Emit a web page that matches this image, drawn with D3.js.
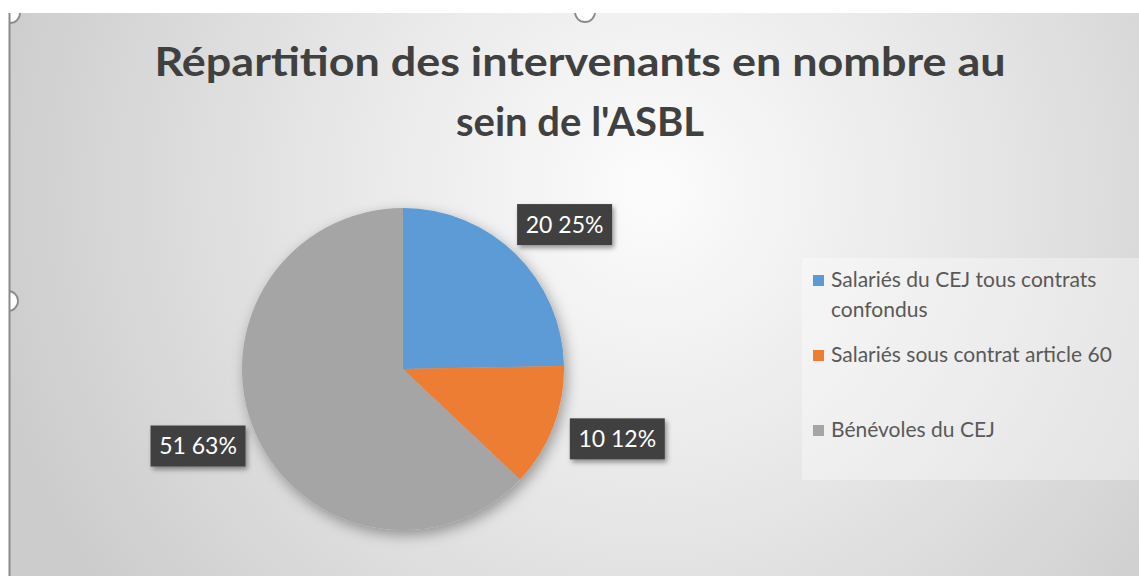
<!DOCTYPE html>
<html>
<head>
<meta charset="utf-8">
<script src="https://cdn.jsdelivr.net/npm/d3@7"></script>
<style>
  html, body { margin: 0; padding: 0; background: #fff; }
  #chart { width: 1139px; height: 576px; }
</style>
</head>
<body>
<div id="chart"></div>
<script>
// données du graphique
const categories = [
  'Salariés du CEJ tous contrats confondus',
  'Salariés sous contrat article 60',
  'Bénévoles du CEJ'
];
const legendLines = [
  ['Salariés du CEJ tous contrats', 'confondus'],
  ['Salariés sous contrat article 60'],
  ['Bénévoles du CEJ']
];
const values = [20, 10, 51];
const colors = ['#5b9bd5', '#ed7d31', '#a5a5a5'];
const titleLines = ['Répartition des intervenants en nombre au', "sein de l'ASBL"];

const width = 1139, height = 576;
const font = 'Lato, "Open Sans", sans-serif';

const svg = d3.select('#chart')
  .append('svg')
  .attr('width', width)
  .attr('height', height)
  .style('display', 'block');

const defs = svg.append('defs');

const bg = defs.append('radialGradient')
  .attr('id', 'bg')
  .attr('gradientUnits', 'userSpaceOnUse')
  .attr('cx', 650).attr('cy', 190).attr('r', 680);
bg.append('stop').attr('offset', '0%').attr('stop-color', '#fcfcfc');
bg.append('stop').attr('offset', '45%').attr('stop-color', '#e8e8e8');
bg.append('stop').attr('offset', '100%').attr('stop-color', '#cccccc');

const pieShadow = defs.append('filter').attr('id', 'pieShadow')
  .attr('x', '-20%').attr('y', '-20%').attr('width', '140%').attr('height', '140%');
pieShadow.append('feDropShadow')
  .attr('dx', 3).attr('dy', 5).attr('stdDeviation', 7)
  .attr('flood-color', '#000').attr('flood-opacity', 0.35);

const boxShadow = defs.append('filter').attr('id', 'boxShadow')
  .attr('x', '-20%').attr('y', '-30%').attr('width', '140%').attr('height', '160%');
boxShadow.append('feDropShadow')
  .attr('dx', 2).attr('dy', 3).attr('stdDeviation', 2.5)
  .attr('flood-color', '#000').attr('flood-opacity', 0.4);

// zone du graphique (cadre sélectionné)
svg.append('rect')
  .attr('x', 10).attr('y', 13)
  .attr('width', width - 10).attr('height', height - 13)
  .attr('fill', 'url(#bg)');

// poignées de sélection (à moitié cachées par le bord)
const handles = [[10, 13], [585, 12], [8, 301]];
svg.selectAll('circle.handle')
  .data(handles)
  .join('circle')
  .attr('class', 'handle')
  .attr('cx', d => d[0]).attr('cy', d => d[1])
  .attr('r', 10)
  .attr('fill', '#fff')
  .attr('stroke', '#8a8a8a')
  .attr('stroke-width', 1.8);
svg.append('rect')
  .attr('x', 0).attr('y', 0).attr('width', width).attr('height', 13)
  .attr('fill', '#fff');
svg.append('rect')
  .attr('x', 0).attr('y', 0).attr('width', 9).attr('height', height)
  .attr('fill', '#fff');
svg.append('line')
  .attr('x1', 9.5).attr('x2', 9.5).attr('y1', 13).attr('y2', height)
  .attr('stroke', '#8a8a8a').attr('stroke-width', 2);

// titre
const title = svg.append('text')
  .attr('text-anchor', 'middle')
  .attr('font-family', font)
  .attr('font-weight', 700)
  .attr('font-size', 40)
  .attr('fill', '#404040');
title.selectAll('tspan')
  .data(titleLines)
  .join('tspan')
  .attr('x', 580)
  .attr('y', (d, i) => 76 + i * 60)
  .text(d => d);
title.select('tspan').attr('textLength', 851).attr('lengthAdjust', 'spacingAndGlyphs');

// camembert
const cx = 403, cy = 369, radius = 161;
const total = d3.sum(values);
const pie = d3.pie().sort(null).value(d => d)(values);
const arc = d3.arc().innerRadius(0).outerRadius(radius);
const labelArc = d3.arc().innerRadius(radius + 18).outerRadius(radius + 18);

const g = svg.append('g').attr('transform', `translate(${cx},${cy})`);

g.append('g')
  .attr('filter', 'url(#pieShadow)')
  .selectAll('path')
  .data(pie)
  .join('path')
  .attr('d', arc)
  .attr('fill', (d, i) => colors[i]);

// étiquettes de données
const boxW = 95, boxH = 41;
const labels = g.selectAll('g.lbl')
  .data(pie)
  .join('g')
  .attr('class', 'lbl')
  .attr('transform', d => {
    const [x, y] = labelArc.centroid(d);
    const a = (d.startAngle + d.endAngle) / 2;
    return `translate(${x + Math.sin(a) * boxW / 2 + 3},${y - Math.cos(a) * boxH / 2 - 2})`;
  });

labels.append('rect')
  .attr('x', -boxW / 2).attr('y', -boxH / 2)
  .attr('width', boxW).attr('height', boxH)
  .attr('fill', '#404040')
  .attr('filter', 'url(#boxShadow)');

labels.append('text')
  .attr('text-anchor', 'middle')
  .attr('dy', '0.36em')
  .attr('font-family', font)
  .attr('font-size', 23)
  .attr('fill', '#fff')
  .text(d => `${d.data} ${d3.format('.0%')(d.data / total)}`);

// légende
const legend = svg.append('g');
legend.append('rect')
  .attr('x', 802).attr('y', 258)
  .attr('width', width - 802).attr('height', 222)
  .attr('fill', '#fff').attr('fill-opacity', 0.35);

const legendY = d3.scaleLinear().domain([0, 1]).range([287, 362]);

const item = legend.selectAll('g.item')
  .data(categories)
  .join('g')
  .attr('class', 'item')
  .attr('transform', (d, i) => `translate(813,${legendY(i)})`);

item.append('rect')
  .attr('x', 0).attr('y', -12)
  .attr('width', 11).attr('height', 11)
  .attr('fill', (d, i) => colors[i]);

item.append('text')
  .attr('font-family', font)
  .attr('font-size', 21)
  .attr('fill', '#595959')
  .selectAll('tspan')
  .data((d, i) => legendLines[i])
  .join('tspan')
  .attr('x', 18)
  .attr('y', (d, j) => j * 30)
  .text(d => d);
</script>
</body>
</html>
